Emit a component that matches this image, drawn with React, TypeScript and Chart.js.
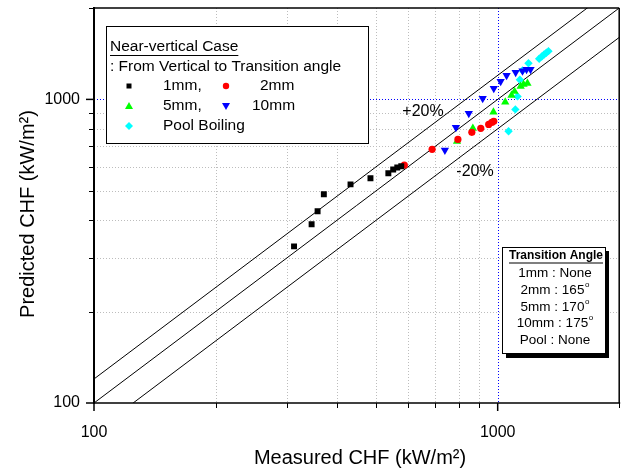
import React, { useEffect, useRef } from 'react';
import { Chart, registerables } from 'chart.js';

Chart.register(...registerables);

// ---- data (kW/m^2) ----
const mm1X = [313, 346, 358, 371, 432, 484, 536, 551, 564, 577];
const mm1Y = [328, 388, 428, 487, 525, 550, 571, 588, 597, 602];

const mm2X = [587, 688, 797, 863, 908, 950, 967, 978];
const mm2Y = [607, 685, 738, 779, 803, 827, 840, 847];

const mm5X = [793, 868, 976, 1044, 1082, 1101, 1140, 1159, 1185];
const mm5Y = [727, 803, 908, 980, 1031, 1062, 1104, 1120, 1129];

const mm10X = [740, 788, 848, 918, 978, 1017, 1052, 1108, 1152, 1179, 1206];
const mm10Y = [680, 809, 899, 1007, 1087, 1146, 1199, 1227, 1241, 1255, 1255];

const poolX = [1064, 1106, 1120, 1135, 1152, 1192, 1267, 1286, 1303, 1320, 1336];
const poolY = [785, 927, 1023, 1161, 1245, 1316, 1361, 1385, 1406, 1425, 1442];

const refRatios = [1, 1.2, 0.8];
const refXRange = [100, 2000];
const axisMin = 100;
const axisMax = 2000;
const majorTickValues = [100, 1000];
const minorTickValues = [200, 300, 400, 500, 600, 700, 800, 900, 2000];
const gridValues = [200, 300, 400, 500, 600, 700, 800, 900];
const markerValue = 1000;

const transitionLines = [
  { t: '1mm : None', deg: false },
  { t: '2mm : 165', deg: true },
  { t: '5mm : 170', deg: true },
  { t: '10mm : 175', deg: true },
  { t: 'Pool : None', deg: false },
];

const FONT = "'Liberation Sans', Arial, Helvetica, sans-serif";

const pts = (xs: number[], ys: number[]) => xs.map((x, i) => ({ x, y: ys[i] }));

function drawMarker(ctx: CanvasRenderingContext2D, kind: string, x: number, y: number, color: string) {
  ctx.save();
  ctx.fillStyle = color;
  ctx.beginPath();
  if (kind === 'square') {
    ctx.rect(x - 2.5, y - 2.5, 5, 5);
  } else if (kind === 'circle') {
    ctx.arc(x, y, 3.2, 0, Math.PI * 2);
  } else if (kind === 'up') {
    ctx.moveTo(x, y - 4);
    ctx.lineTo(x + 4, y + 3);
    ctx.lineTo(x - 4, y + 3);
    ctx.closePath();
  } else if (kind === 'down') {
    ctx.moveTo(x, y + 4);
    ctx.lineTo(x + 4, y - 3);
    ctx.lineTo(x - 4, y - 3);
    ctx.closePath();
  } else if (kind === 'diamond') {
    ctx.moveTo(x, y - 4);
    ctx.lineTo(x + 4, y);
    ctx.lineTo(x, y + 4);
    ctx.lineTo(x - 4, y);
    ctx.closePath();
  }
  ctx.fill();
  ctx.restore();
}

function seg(ctx: CanvasRenderingContext2D, x1: number, y1: number, x2: number, y2: number) {
  ctx.beginPath();
  ctx.moveTo(x1, y1);
  ctx.lineTo(x2, y2);
  ctx.stroke();
}

const decor = {
  id: 'decor',
  beforeDatasetsDraw(chart: any) {
    const { ctx, chartArea: a, scales } = chart;
    const xs = scales.x;
    const ys = scales.y;
    ctx.save();
    ctx.lineWidth = 1;
    ctx.setLineDash([1, 2]);
    ctx.strokeStyle = '#bdbdbd';
    for (const v of gridValues) {
      const px = Math.round(xs.getPixelForValue(v)) + 0.5;
      seg(ctx, px, a.top, px, a.bottom);
      const py = Math.round(ys.getPixelForValue(v)) + 0.5;
      seg(ctx, a.left, py, a.right, py);
    }
    ctx.strokeStyle = '#0000ff';
    const bx = Math.round(xs.getPixelForValue(markerValue)) + 0.5;
    seg(ctx, bx, a.top, bx, a.bottom);
    const by = Math.round(ys.getPixelForValue(markerValue)) + 0.5;
    seg(ctx, a.left, by, a.right, by);
    ctx.restore();
  },
  afterDatasetsDraw(chart: any) {
    const { ctx, chartArea: a, scales } = chart;
    const xs = scales.x;
    const ys = scales.y;
    ctx.save();
    ctx.strokeStyle = '#000';
    ctx.fillStyle = '#000';

    // frame
    ctx.lineWidth = 1.5;
    seg(ctx, a.left, a.top, a.right, a.top);
    seg(ctx, a.right, a.top, a.right, a.bottom);
    seg(ctx, a.left - 1, a.bottom, a.right + 1, a.bottom);
    ctx.lineWidth = 2;
    seg(ctx, a.left, a.top - 1, a.left, a.bottom + 1);

    // tick marks
    ctx.lineWidth = 1.5;
    for (const v of majorTickValues) {
      const px = xs.getPixelForValue(v);
      seg(ctx, px, a.bottom, px, a.bottom + 8);
      const py = ys.getPixelForValue(v);
      seg(ctx, a.left - 8, py, a.left, py);
    }
    ctx.lineWidth = 1;
    for (const v of minorTickValues) {
      const px = Math.round(xs.getPixelForValue(v)) + 0.5;
      seg(ctx, px, a.bottom, px, a.bottom + 5);
      const py = Math.round(ys.getPixelForValue(v)) + 0.5;
      seg(ctx, a.left - 5, py, a.left, py);
    }

    // +20% / -20%
    ctx.font = `16px ${FONT}`;
    ctx.textAlign = 'center';
    ctx.textBaseline = 'middle';
    ctx.fillText('+20%', 423, 112);
    ctx.fillText('-20%', 475, 172);

    // legend box
    ctx.fillStyle = '#fff';
    ctx.fillRect(106, 26, 262, 117);
    ctx.lineWidth = 1;
    ctx.strokeStyle = '#000';
    ctx.strokeRect(106.5, 26.5, 262, 117);
    ctx.fillStyle = '#000';
    ctx.font = `15.5px ${FONT}`;
    ctx.textAlign = 'left';
    ctx.fillText('Near-vertical Case', 110, 47);
    const w1 = ctx.measureText('Near-vertical Case').width;
    seg(ctx, 110, 55.5, 110 + w1, 55.5);
    ctx.fillText(': From Vertical to Transition angle', 110, 67);
    ctx.fillText('1mm,', 163, 86);
    ctx.fillText('2mm', 260, 86);
    ctx.fillText('5mm,', 163, 106);
    ctx.fillText('10mm', 252, 106);
    ctx.fillText('Pool Boiling', 163, 126);
    drawMarker(ctx, 'square', 129, 86, '#000');
    drawMarker(ctx, 'circle', 226, 86, '#ff0000');
    drawMarker(ctx, 'up', 129, 106, '#00ff00');
    drawMarker(ctx, 'down', 226, 106, '#0000ff');
    drawMarker(ctx, 'diamond', 129, 126, '#00ffff');

    // transition angle box
    ctx.fillStyle = '#000';
    ctx.fillRect(506, 251, 103, 107);
    ctx.fillStyle = '#fff';
    ctx.fillRect(502, 247, 103, 106);
    ctx.strokeStyle = '#000';
    ctx.lineWidth = 1;
    ctx.strokeRect(502.5, 247.5, 103, 106);
    ctx.fillStyle = '#000';
    ctx.font = `bold 12px ${FONT}`;
    ctx.textAlign = 'center';
    ctx.fillText('Transition Angle', 556, 256);
    const tw = ctx.measureText('Transition Angle').width;
    ctx.lineWidth = 1.2;
    seg(ctx, 556 - tw / 2, 263, 556 + tw / 2, 263);
    const rowsY = [273, 290, 307, 323, 340];
    transitionLines.forEach((row, i) => {
      ctx.font = `13.5px ${FONT}`;
      const w = ctx.measureText(row.t).width + (row.deg ? 5 : 0);
      const x0 = 555 - w / 2;
      ctx.textAlign = 'left';
      ctx.fillText(row.t, x0, rowsY[i]);
      if (row.deg) {
        ctx.font = `8px ${FONT}`;
        ctx.fillText('o', x0 + w - 4.5, rowsY[i] - 5);
      }
    });

    // axis titles
    ctx.font = `20px ${FONT}`;
    ctx.textAlign = 'center';
    ctx.textBaseline = 'middle';
    ctx.fillText('Measured CHF (kW/m²)', 360, 458);
    ctx.save();
    ctx.translate(28, 214);
    ctx.rotate(-Math.PI / 2);
    ctx.fillText('Predicted CHF (kW/m²)', 0, 0);
    ctx.restore();

    ctx.restore();
  },
};

const zeroPad = (s: any) => {
  s.paddingTop = 0;
  s.paddingBottom = 0;
  s.paddingLeft = 0;
  s.paddingRight = 0;
};

export default function App() {
  const ref = useRef<HTMLCanvasElement | null>(null);
  useEffect(() => {
    if (!ref.current) return;
    const refDatasets = refRatios.map((r) => ({
      type: 'line' as const,
      label: `ratio ${r}`,
      data: refXRange.map((x) => ({ x, y: x * r })),
      borderColor: '#000',
      borderWidth: 1,
      pointRadius: 0,
      showLine: true,
      fill: false,
      order: 10,
    }));
    const chart = new Chart(ref.current, {
      type: 'scatter',
      data: {
        datasets: [
          { label: '1mm', data: pts(mm1X, mm1Y), pointStyle: 'rect', pointRadius: 4.2, backgroundColor: '#000', borderColor: '#000', borderWidth: 0, order: 1 },
          { label: '2mm', data: pts(mm2X, mm2Y), pointStyle: 'circle', pointRadius: 3.6, backgroundColor: '#ff0000', borderColor: '#ff0000', borderWidth: 0, order: 1 },
          { label: '5mm', data: pts(mm5X, mm5Y), pointStyle: 'triangle', pointRadius: 4.8, backgroundColor: '#00ff00', borderColor: '#00ff00', borderWidth: 0, order: 1 },
          { label: '10mm', data: pts(mm10X, mm10Y), pointStyle: 'triangle', pointRotation: 180, pointRadius: 4.8, backgroundColor: '#0000ff', borderColor: '#0000ff', borderWidth: 0, order: 1 },
          { label: 'Pool Boiling', data: pts(poolX, poolY), pointStyle: 'rectRot', pointRadius: 4.2, backgroundColor: '#00ffff', borderColor: '#00ffff', borderWidth: 0, order: 1 },
          ...refDatasets,
        ] as any,
      },
      options: {
        animation: false,
        responsive: false,
        devicePixelRatio: 1,
        layout: { padding: { left: 0, top: 8, right: 2, bottom: 0 } },
        plugins: { legend: { display: false }, tooltip: { enabled: false } },
        scales: {
          x: {
            type: 'logarithmic',
            min: axisMin,
            max: axisMax,
            grid: { display: false, drawTicks: false },
            border: { display: false },
            afterFit: (s: any) => { s.height = 68; zeroPad(s); },
            ticks: {
              autoSkip: false,
              maxRotation: 0,
              padding: 20,
              color: '#000',
              font: { size: 16, family: FONT },
              callback: (v: any) => (majorTickValues.some((t) => Math.abs(t - Number(v)) < 1e-6) ? String(v) : ''),
            },
          },
          y: {
            type: 'logarithmic',
            min: axisMin,
            max: axisMax,
            grid: { display: false, drawTicks: false },
            border: { display: false },
            afterFit: (s: any) => { s.width = 94; zeroPad(s); },
            ticks: {
              autoSkip: false,
              padding: 14,
              color: '#000',
              font: { size: 16, family: FONT },
              callback: (v: any) => (majorTickValues.some((t) => Math.abs(t - Number(v)) < 1e-6) ? String(v) : ''),
            },
          },
        },
      },
      plugins: [decor],
    });
    return () => chart.destroy();
  }, []);
  return (
    <div style={{ position: 'fixed', left: 0, top: 0, width: 624, height: 471, background: '#fff' }}>
      <canvas ref={ref} width={624} height={471} style={{ width: 624, height: 471, display: 'block' }} />
    </div>
  );
}
